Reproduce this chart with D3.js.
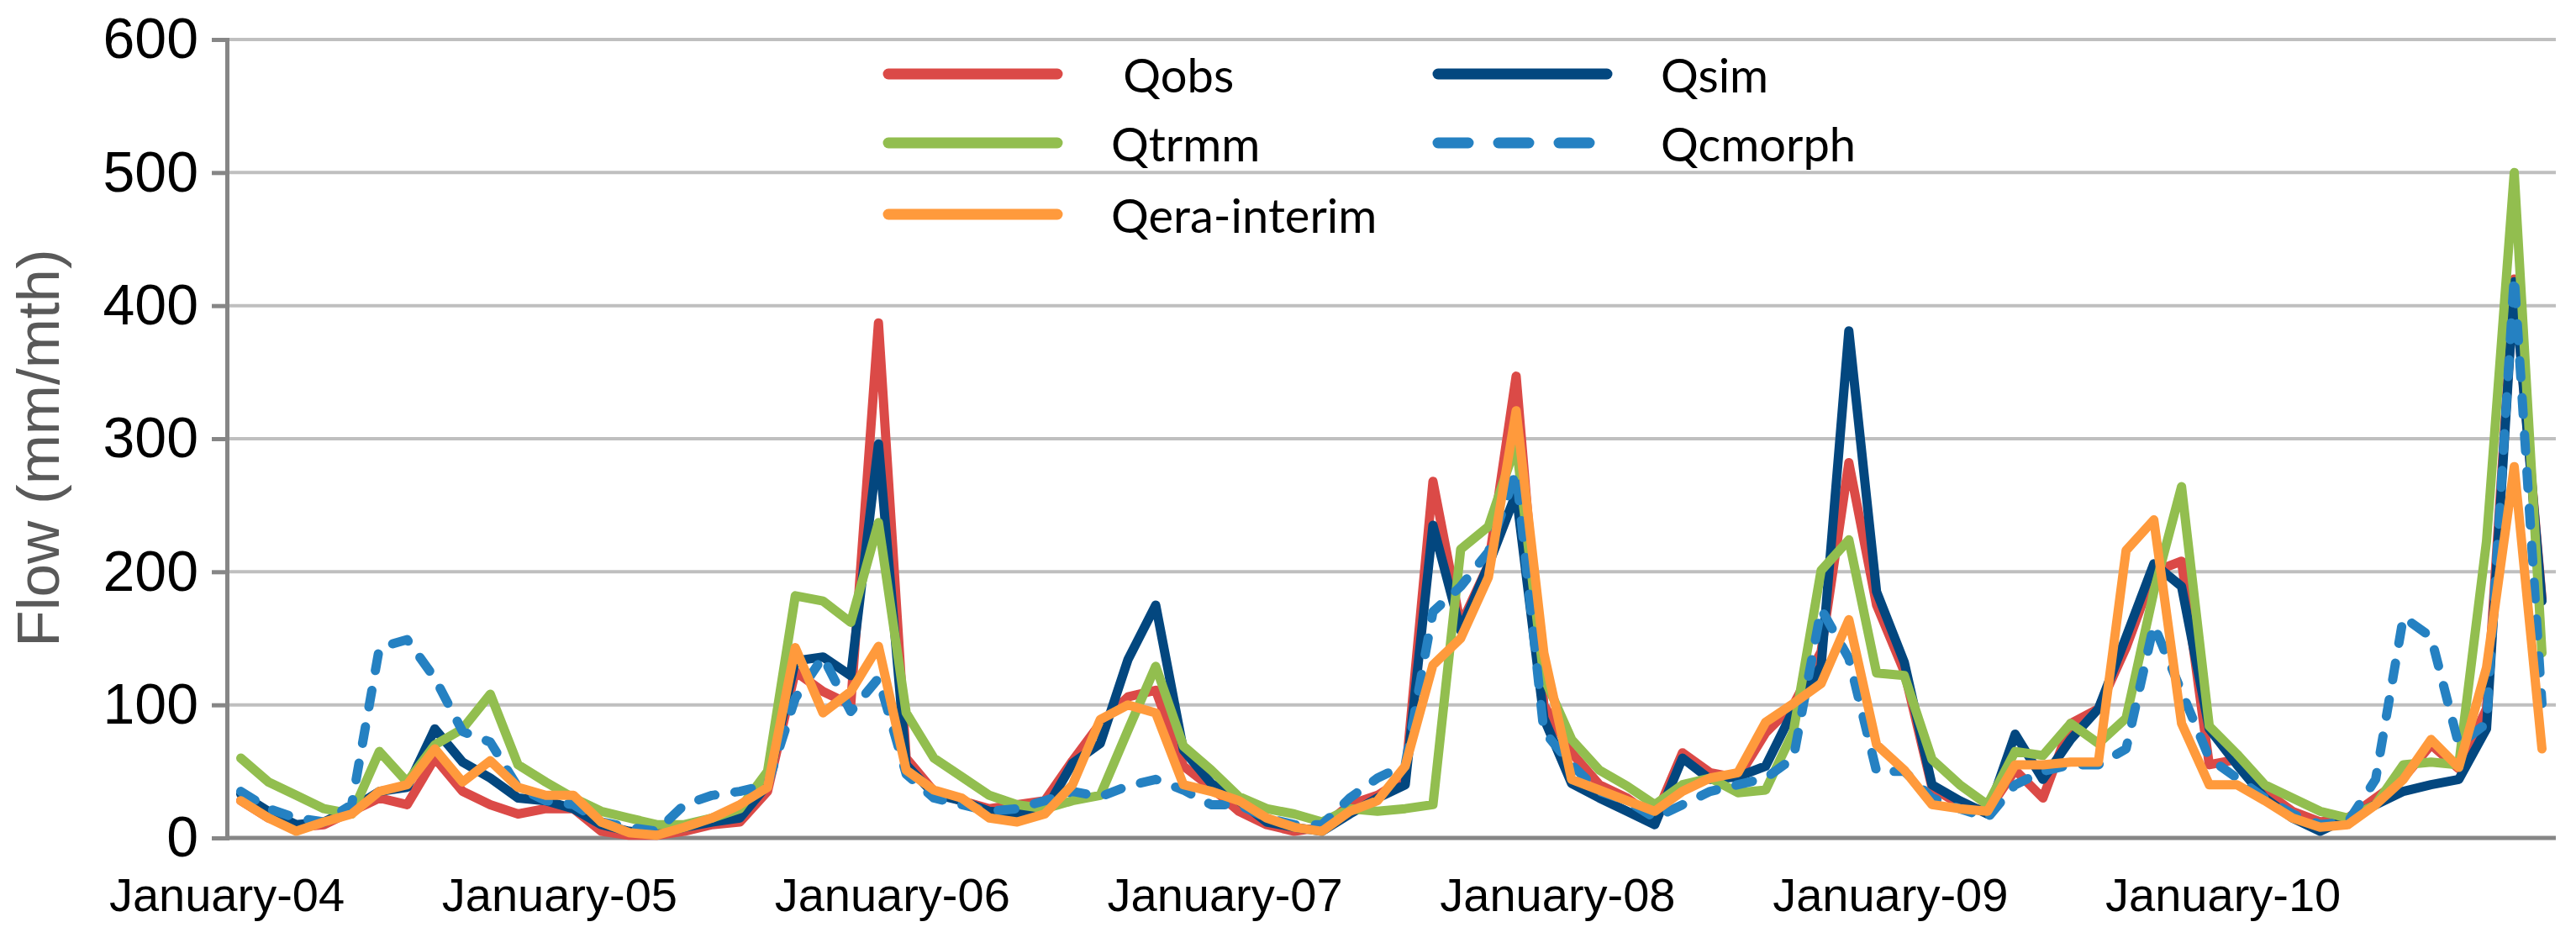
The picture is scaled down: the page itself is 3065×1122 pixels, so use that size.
<!DOCTYPE html>
<html>
<head>
<meta charset="utf-8">
<script src="https://cdn.jsdelivr.net/npm/d3@7"></script>
<style>
  html, body { margin: 0; padding: 0; background: #fff; }
  svg { display: block; }
</style>
</head>
<body>
<div id="chart"></div>
<script>
// Monthly flow, January 2004 - December 2010 (84 months)
const tickLabels = ["January-04", "January-05", "January-06", "January-07", "January-08", "January-09", "January-10"];
const yTicks = [0, 100, 200, 300, 400, 500, 600];

const qobs = [
    28, 15, 8, 10, 20, 30, 25, 60, 35, 25, 18, 22,
    22, 5, 2, 2, 5, 10, 12, 35, 125, 110, 100, 387,
    60, 35, 28, 22, 25, 28, 58, 86, 106, 111, 54, 38,
    20, 10, 5, 8, 25, 32, 45, 268, 160, 205, 347, 100,
    64, 40, 30, 15, 64, 49, 45, 79, 100, 140, 282, 175,
    125, 38, 25, 20, 51, 30, 86, 97, 143, 200, 208, 55,
    59, 35, 20, 12, 15, 30, 45, 70, 52, 97, 420, 180
];
const qsim = [
    33, 20, 10, 12, 22, 35, 38, 82, 57, 45, 30, 28,
    22, 10, 5, 3, 8, 12, 15, 40, 133, 136, 122, 296,
    55, 33, 28, 20, 18, 20, 56, 71, 134, 175, 66, 41,
    28, 12, 8, 5, 18, 30, 40, 235, 156, 205, 259, 90,
    41, 30, 20, 10, 60, 44, 46, 54, 96, 129, 381, 185,
    132, 40, 28, 18, 78, 44, 74, 97, 151, 206, 189, 82,
    55, 30, 15, 5, 15, 25, 35, 40, 44, 82, 418, 178
];
const qtrmm = [
    60, 42, 32, 22, 18, 65, 42, 70, 82, 108, 55, 42,
    30, 20, 15, 10, 10, 15, 22, 50, 182, 178, 162, 237,
    94, 60, 46, 32, 25, 22, 28, 32, 81, 129, 69, 51,
    31, 22, 18, 12, 22, 20, 22, 25, 217, 234, 296, 121,
    74, 51, 39, 25, 40, 45, 34, 36, 80, 201, 224, 124,
    122, 59, 40, 25, 65, 62, 86, 71, 90, 185, 264, 84,
    63, 40, 30, 20, 15, 25, 55, 57, 55, 223, 500, 139
];
const qcmorph = [
    35, 22, 15, 12, 25, 143, 149, 120, 80, 72, 38, 28,
    25, 12, 8, 5, 25, 32, 35, 40, 105, 136, 95, 120,
    48, 30, 25, 20, 22, 28, 35, 31, 39, 44, 36, 25,
    25, 15, 10, 10, 30, 45, 55, 170, 189, 215, 275, 80,
    55, 35, 28, 15, 25, 35, 40, 45, 60, 172, 135, 50,
    50, 30, 22, 15, 40, 50, 55, 55, 67, 160, 110, 60,
    45, 30, 18, 10, 12, 44, 166, 151, 70, 86, 422, 101
];
const qera = [
    28, 15, 5, 12, 18, 35, 40, 67, 42, 58, 38, 32,
    32, 12, 4, 2, 8, 15, 25, 38, 143, 94, 110, 144,
    51, 36, 30, 15, 12, 18, 40, 89, 100, 94, 40, 35,
    28, 15, 8, 5, 20, 28, 54, 130, 150, 196, 321, 139,
    44, 36, 28, 20, 35, 45, 49, 87, 101, 116, 164, 70,
    51, 25, 22, 20, 55, 55, 57, 57, 216, 239, 86, 40,
    40, 28, 15, 8, 10, 25, 44, 74, 53, 128, 279, 67
];

// draw order follows the series order in the legend
const series = [
    { name: ' Qobs', values: qobs, color: '#DB4A47', dash: null },
    { name: 'Qsim', values: qsim, color: '#03477F', dash: null },
    { name: 'Qtrmm', values: qtrmm, color: '#92BE4F', dash: null },
    { name: 'Qcmorph', values: qcmorph, color: '#2581C2', dash: '20,24' },
    { name: 'Qera-interim', values: qera, color: '#FF9A3C', dash: null }
];

const width = 3065;
const height = 1122;
const plotLeft = 270, plotRight = 3041, plotTop = 47, plotBottom = 997;

const svg = d3.select('#chart')
    .append('svg')
    .attr('width', width)
    .attr('height', height);

const months = d3.range(qobs.length);

const x = d3.scaleBand()
    .domain(months)
    .range([plotLeft, plotRight])
    .paddingInner(0)
    .paddingOuter(0);

const y = d3.scaleLinear()
    .domain([0, 600])
    .range([plotBottom, plotTop]);

// Gridlines
svg.append('g')
    .selectAll('line')
    .data(yTicks.filter(d => d > 0))
    .join('line')
    .attr('x1', plotLeft)
    .attr('x2', plotRight)
    .attr('y1', d => y(d))
    .attr('y2', d => y(d))
    .attr('stroke', '#BFBFBF')
    .attr('stroke-width', 4);

// Y axis
const yAxis = svg.append('g')
    .attr('transform', `translate(${plotLeft},0)`)
    .call(d3.axisLeft(y).tickValues(yTicks).tickSize(18).tickPadding(16).tickFormat(d3.format('d')));
yAxis.select('.domain').attr('stroke', '#868686').attr('stroke-width', 5);
yAxis.selectAll('.tick line').attr('stroke', '#868686').attr('stroke-width', 5);
yAxis.selectAll('.tick text')
    .attr('font-family', 'Liberation Sans, Arial, sans-serif')
    .attr('font-size', 68)
    .attr('fill', '#000');

// X axis baseline
svg.append('line')
    .attr('x1', plotLeft)
    .attr('x2', plotRight)
    .attr('y1', plotBottom)
    .attr('y2', plotBottom)
    .attr('stroke', '#868686')
    .attr('stroke-width', 5);

// X labels, one per January
svg.append('g')
    .selectAll('text')
    .data(tickLabels)
    .join('text')
    .attr('x', (d, i) => x(i * 12))
    .attr('y', 1084)
    .attr('text-anchor', 'middle')
    .attr('font-family', 'Liberation Sans, Arial, sans-serif')
    .attr('font-size', 56)
    .attr('fill', '#000')
    .text(d => d);

// Y title
svg.append('text')
    .attr('transform', 'translate(45,533) rotate(-90)')
    .attr('text-anchor', 'middle')
    .attr('dominant-baseline', 'central')
    .attr('font-family', 'Liberation Sans, Arial, sans-serif')
    .attr('font-size', 71)
    .attr('fill', '#595959')
    .text('Flow (mm/mth)');

// Lines
const line = d3.line()
    .x((d, i) => x(i) + x.bandwidth() / 2)
    .y(d => y(d));

svg.append('g')
    .selectAll('path')
    .data(series)
    .join('path')
    .attr('d', d => line(d.values))
    .attr('fill', 'none')
    .attr('stroke', d => d.color)
    .attr('stroke-width', 11)
    .attr('stroke-linejoin', 'round')
    .attr('stroke-linecap', 'round')
    .attr('stroke-dasharray', d => d.dash);

// Legend: two columns, filled row by row
const legendPos = [
    { x: 1050, y: 88 },   // Qobs
    { x: 1704, y: 88 },   // Qsim
    { x: 1050, y: 170 },  // Qtrmm
    { x: 1704, y: 170 },  // Qcmorph
    { x: 1050, y: 255 }   // Qera-interim
];

const legend = svg.append('g')
    .selectAll('g')
    .data(series)
    .join('g')
    .attr('transform', (d, i) => `translate(${legendPos[i].x},${legendPos[i].y})`);

legend.append('line')
    .attr('x1', 7)
    .attr('x2', 208)
    .attr('stroke', d => d.color)
    .attr('stroke-width', 13)
    .attr('stroke-linecap', 'round')
    .attr('stroke-dasharray', d => d.dash ? '36,36' : null);

legend.append('text')
    .attr('x', 272)
    .attr('dominant-baseline', 'central')
    .attr('font-family', 'Lato, Open Sans, sans-serif')
    .attr('font-size', 56)
    .attr('fill', '#000')
    .style('white-space', 'pre')
    .text(d => d.name);
</script>
</body>
</html>
